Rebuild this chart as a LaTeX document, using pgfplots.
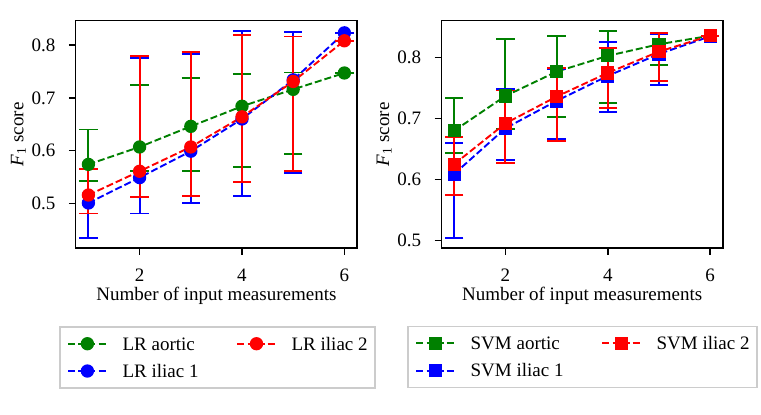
\documentclass[border=0pt]{standalone}
\usepackage{fontspec}
\setmainfont{Liberation Serif}
\usepackage{pgfplots}
\pgfplotsset{compat=1.18}
\usepackage{pgfplotstable}

\definecolor{mgreen}{RGB}{0,128,0}
\definecolor{mblue}{RGB}{0,0,255}
\definecolor{mred}{RGB}{255,0,0}

% LR (left panel): x, mean, lower end, upper end
\pgfplotstableread{
x y lo hi
1 0.574 0.542 0.640
2 0.607 0.562 0.724
3 0.646 0.562 0.738
4 0.684 0.569 0.745
5 0.716 0.594 0.748
6 0.747 0.747 0.747
}\LRaortic
\pgfplotstableread{
x y lo hi
1 0.501 0.435 0.566
2 0.549 0.481 0.775
3 0.599 0.501 0.783
4 0.660 0.515 0.826
5 0.734 0.558 0.825
6 0.823 0.823 0.823
}\LRiliacA
\pgfplotstableread{
x y lo hi
1 0.516 0.481 0.565
2 0.561 0.513 0.779
3 0.607 0.515 0.786
4 0.664 0.540 0.819
5 0.731 0.562 0.816
6 0.808 0.808 0.808
}\LRiliacB
% SVM (right panel)
\pgfplotstableread{
x y lo hi
1 0.680 0.643 0.733
2 0.737 0.683 0.830
3 0.777 0.702 0.836
4 0.803 0.725 0.844
5 0.822 0.788 0.839
6 0.836 0.836 0.836
}\SVMaortic
\pgfplotstableread{
x y lo hi
1 0.609 0.504 0.660
2 0.684 0.632 0.749
3 0.729 0.667 0.781
4 0.770 0.711 0.826
5 0.806 0.755 0.838
6 0.835 0.835 0.835
}\SVMiliacA
\pgfplotstableread{
x y lo hi
1 0.625 0.575 0.669
2 0.692 0.627 0.746
3 0.736 0.663 0.783
4 0.775 0.717 0.816
5 0.810 0.762 0.841
6 0.836 0.836 0.836
}\SVMiliacB

\pgfplotsset{
  panel/.style={
    scale only axis, width=140.8pt, height=113.75pt,
    anchor=south west,
    xmin=0.75, xmax=6.25,
    xtick={2,4,6}, ytick={0.5,0.6,0.7,0.8},
    tick align=outside, xtick pos=bottom, ytick pos=left,
    major tick length=3.33pt,
    every tick/.style={black, line width=0.76pt},
    axis line style={line width=0.76pt},
    /pgf/number format/assume math mode=true,
    xticklabel style={anchor=base, inner sep=0pt, yshift=-13.1pt},
    yticklabel style={anchor=east, inner sep=0pt, xshift=-6.6pt,
      /pgf/number format/.cd, fixed, fixed zerofill, precision=1},
    xlabel={Number of input measurements},
    ylabel={\textit{F}\textsubscript{1} score},
    xlabel style={at={(axis description cs:0.5,0)}, anchor=base, inner sep=0pt, yshift=-25.95pt},
    ylabel style={at={(axis description cs:-0.1857,0.5)}, anchor=base, inner sep=0pt},
    legend columns=2,
    legend cell align=left,
    legend image code/.code={\draw[mark repeat=2,mark phase=2,##1] plot coordinates {(0pt,0pt) (9.5pt,0pt) (19pt,0pt)};},
    legend style={
      anchor=north west,
      draw=black!20, line width=0.76pt, fill=white,
      inner xsep=3.8pt, inner ysep=5.3pt,
      row sep=7.35pt,
      nodes={inner sep=0pt, text height=6.3pt, text depth=0pt, anchor=west},
      /tikz/every odd column/.append style={column sep=7.6pt},
      /tikz/every even column/.append style={column sep=19pt},
    },
  },
  ser/.style={#1, line width=0.95pt, dash pattern=on 3.5pt off 1.52pt, mark options={solid}},
  ebar/.style={error bars/y dir=both, error bars/y explicit,
    error bars/error bar style={solid, line width=0.95pt},
    error bars/error mark options={rotate=90, solid, line width=0.95pt, mark size=4.6pt}},
}

\begin{document}
\fontsize{9.5}{11}\selectfont
\begin{tikzpicture}[font=\fontsize{9.5}{11}\selectfont]
\useasboundingbox (0,0) rectangle (380.5pt,207.5pt);
\begin{axis}[panel, at={(37.8pt,83.4pt)}, ymin=0.4154, ymax=0.8460,
  legend style={at={(axis description cs:-0.0586,-0.3423)}}]
  \addplot[forget plot, ser=mgreen, mark=*, mark size=2.85pt, ebar]
    table[x=x, y=y, y error plus expr=\thisrow{hi}-\thisrow{y}, y error minus expr=\thisrow{y}-\thisrow{lo}] {\LRaortic};
  \addplot[forget plot, ser=mblue, mark=*, mark size=2.85pt, ebar]
    table[x=x, y=y, y error plus expr=\thisrow{hi}-\thisrow{y}, y error minus expr=\thisrow{y}-\thisrow{lo}] {\LRiliacA};
  \addplot[forget plot, ser=mred, mark=*, mark size=2.85pt, ebar]
    table[x=x, y=y, y error plus expr=\thisrow{hi}-\thisrow{y}, y error minus expr=\thisrow{y}-\thisrow{lo}] {\LRiliacB};
  \addlegendimage{ser=mgreen, mark=*, mark size=2.85pt}
  \addlegendentry{LR aortic}
  \addlegendimage{ser=mred, mark=*, mark size=2.85pt}
  \addlegendentry{LR iliac 2}
  \addlegendimage{ser=mblue, mark=*, mark size=2.85pt}
  \addlegendentry{LR iliac 1}
\end{axis}
\begin{axis}[panel, at={(220.7pt,83.4pt)}, ymin=0.4870, ymax=0.8607,
  legend style={at={(axis description cs:-0.1215,-0.3405)}}]
  \addplot[forget plot, ser=mgreen, mark=square*, mark size=2.85pt, ebar]
    table[x=x, y=y, y error plus expr=\thisrow{hi}-\thisrow{y}, y error minus expr=\thisrow{y}-\thisrow{lo}] {\SVMaortic};
  \addplot[forget plot, ser=mblue, mark=square*, mark size=2.85pt, ebar]
    table[x=x, y=y, y error plus expr=\thisrow{hi}-\thisrow{y}, y error minus expr=\thisrow{y}-\thisrow{lo}] {\SVMiliacA};
  \addplot[forget plot, ser=mred, mark=square*, mark size=2.85pt, ebar]
    table[x=x, y=y, y error plus expr=\thisrow{hi}-\thisrow{y}, y error minus expr=\thisrow{y}-\thisrow{lo}] {\SVMiliacB};
  \addlegendimage{ser=mgreen, mark=square*, mark size=2.85pt}
  \addlegendentry{SVM aortic}
  \addlegendimage{ser=mred, mark=square*, mark size=2.85pt}
  \addlegendentry{SVM iliac 2}
  \addlegendimage{ser=mblue, mark=square*, mark size=2.85pt}
  \addlegendentry{SVM iliac 1}
\end{axis}
\end{tikzpicture}
\end{document}
